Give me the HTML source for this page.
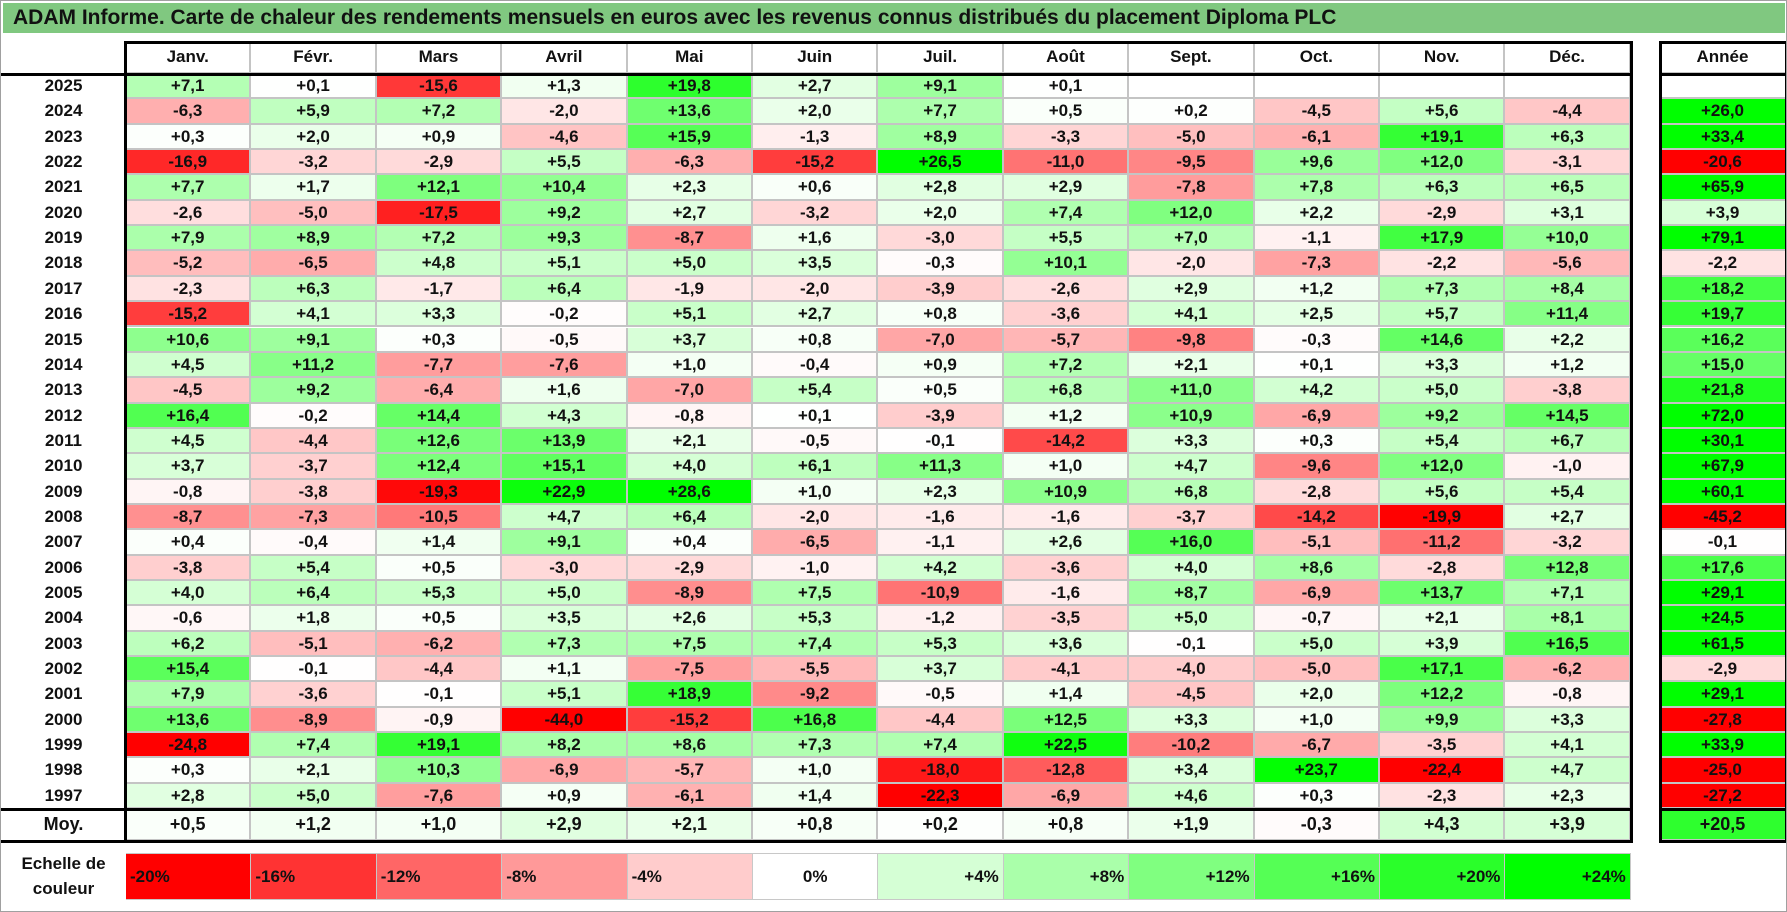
<!DOCTYPE html>
<html><head><meta charset="utf-8">
<style>
html,body{margin:0;padding:0;background:#fff;}
#page{position:relative;width:1787px;height:912px;overflow:hidden;font-family:"Liberation Sans",Arial,sans-serif;box-sizing:border-box;border:1px solid #a0a0a0;}
.title{position:absolute;left:2px;top:2px;width:1782px;height:30px;background:#80c880;font-weight:bold;font-size:21px;line-height:30px;padding-left:10px;box-sizing:border-box;color:#111;white-space:nowrap;}
.c{position:absolute;box-sizing:border-box;text-align:center;font-weight:bold;font-size:17px;color:#111;border-right:2px solid #c4c4c4;border-bottom:2px solid #c4c4c4;white-space:nowrap;}
.k{position:absolute;background:#000;}
</style></head><body>
<div id="page">
<div class="title">ADAM Informe. Carte de chaleur des rendements mensuels en euros avec les revenus connus distribués du placement Diploma PLC</div>
</div>
<script>
const months = ["Janv.","Févr.","Mars","Avril","Mai","Juin","Juil.","Août","Sept.","Oct.","Nov.","Déc."];
const years = [2025,2024,2023,2022,2021,2020,2019,2018,2017,2016,2015,2014,2013,2012,2011,2010,2009,2008,2007,2006,2005,2004,2003,2002,2001,2000,1999,1998,1997];
const monthly = [
[7.1,0.1,-15.6,1.3,19.8,2.7,9.1,0.1,null,null,null,null],
[-6.3,5.9,7.2,-2.0,13.6,2.0,7.7,0.5,0.2,-4.5,5.6,-4.4],
[0.3,2.0,0.9,-4.6,15.9,-1.3,8.9,-3.3,-5.0,-6.1,19.1,6.3],
[-16.9,-3.2,-2.9,5.5,-6.3,-15.2,26.5,-11.0,-9.5,9.6,12.0,-3.1],
[7.7,1.7,12.1,10.4,2.3,0.6,2.8,2.9,-7.8,7.8,6.3,6.5],
[-2.6,-5.0,-17.5,9.2,2.7,-3.2,2.0,7.4,12.0,2.2,-2.9,3.1],
[7.9,8.9,7.2,9.3,-8.7,1.6,-3.0,5.5,7.0,-1.1,17.9,10.0],
[-5.2,-6.5,4.8,5.1,5.0,3.5,-0.3,10.1,-2.0,-7.3,-2.2,-5.6],
[-2.3,6.3,-1.7,6.4,-1.9,-2.0,-3.9,-2.6,2.9,1.2,7.3,8.4],
[-15.2,4.1,3.3,-0.2,5.1,2.7,0.8,-3.6,4.1,2.5,5.7,11.4],
[10.6,9.1,0.3,-0.5,3.7,0.8,-7.0,-5.7,-9.8,-0.3,14.6,2.2],
[4.5,11.2,-7.7,-7.6,1.0,-0.4,0.9,7.2,2.1,0.1,3.3,1.2],
[-4.5,9.2,-6.4,1.6,-7.0,5.4,0.5,6.8,11.0,4.2,5.0,-3.8],
[16.4,-0.2,14.4,4.3,-0.8,0.1,-3.9,1.2,10.9,-6.9,9.2,14.5],
[4.5,-4.4,12.6,13.9,2.1,-0.5,-0.1,-14.2,3.3,0.3,5.4,6.7],
[3.7,-3.7,12.4,15.1,4.0,6.1,11.3,1.0,4.7,-9.6,12.0,-1.0],
[-0.8,-3.8,-19.3,22.9,28.6,1.0,2.3,10.9,6.8,-2.8,5.6,5.4],
[-8.7,-7.3,-10.5,4.7,6.4,-2.0,-1.6,-1.6,-3.7,-14.2,-19.9,2.7],
[0.4,-0.4,1.4,9.1,0.4,-6.5,-1.1,2.6,16.0,-5.1,-11.2,-3.2],
[-3.8,5.4,0.5,-3.0,-2.9,-1.0,4.2,-3.6,4.0,8.6,-2.8,12.8],
[4.0,6.4,5.3,5.0,-8.9,7.5,-10.9,-1.6,8.7,-6.9,13.7,7.1],
[-0.6,1.8,0.5,3.5,2.6,5.3,-1.2,-3.5,5.0,-0.7,2.1,8.1],
[6.2,-5.1,-6.2,7.3,7.5,7.4,5.3,3.6,-0.1,5.0,3.9,16.5],
[15.4,-0.1,-4.4,1.1,-7.5,-5.5,3.7,-4.1,-4.0,-5.0,17.1,-6.2],
[7.9,-3.6,-0.1,5.1,18.9,-9.2,-0.5,1.4,-4.5,2.0,12.2,-0.8],
[13.6,-8.9,-0.9,-44.0,-15.2,16.8,-4.4,12.5,3.3,1.0,9.9,3.3],
[-24.8,7.4,19.1,8.2,8.6,7.3,7.4,22.5,-10.2,-6.7,-3.5,4.1],
[0.3,2.1,10.3,-6.9,-5.7,1.0,-18.0,-12.8,3.4,23.7,-22.4,4.7],
[2.8,5.0,-7.6,0.9,-6.1,1.4,-22.3,-6.9,4.6,0.3,-2.3,2.3]
];
const yearly = [null,26.0,33.4,-20.6,65.9,3.9,79.1,-2.2,18.2,19.7,16.2,15.0,21.8,72.0,30.1,67.9,60.1,-45.2,-0.1,17.6,29.1,24.5,61.5,-2.9,29.1,-27.8,33.9,-25.0,-27.2];
const averages = [0.5,1.2,1.0,2.9,2.1,0.8,0.2,0.8,1.9,-0.3,4.3,3.9];
const averageYear = 20.5;
const scaleSteps = [-20,-16,-12,-8,-4,0,4,8,12,16,20,24];

const page = document.getElementById('page');
const X0 = 125, CW = 125.4, AX = 1659, AW = 127, HT = 41, HB = 73, RH = 25.35;
const xOf = i => X0 + i*CW;
const yOf = r => HB + r*RH;
function color(v, negMax, posMax){
  if(v===null) return '#fff';
  let t, c;
  if(v<0){ t=Math.min(-v/negMax,1); c=Math.round(255*(1-t)); return `rgb(255,${c},${c})`; }
  t=Math.min(v/posMax,1); c=Math.round(255*(1-t)); return `rgb(${c},255,${c})`;
}
const fmt = v => v===null ? '' : (v>=0?'+':'') + v.toFixed(1).replace('.',',');
function cell(x,y,w,h,text,bg,extra){
  const d=document.createElement('div');
  d.className='c';
  d.style.cssText=`left:${x}px;top:${y}px;width:${w}px;height:${h}px;line-height:${h-2}px;background:${bg};`+(extra||'');
  d.textContent=text;
  page.appendChild(d);
  return d;
}
function bar(x,y,w,h){
  const d=document.createElement('div');
  d.className='k';
  d.style.cssText=`left:${x}px;top:${y}px;width:${w}px;height:${h}px;`;
  
  
  page.appendChild(d);
}
months.forEach((m,i)=>{
  const d=cell(xOf(i),HT,CW,HB-HT,m,'#fff');
  
  
});
{ const d=cell(AX,HT,AW,HB-HT,'Année','#fff');
  
   }
years.forEach((yr,r)=>{
  const y=yOf(r);
  const l=cell(0,y,X0,RH,String(yr),'#fff','border-right:none;border-bottom:none;');
  
  
  monthly[r].forEach((v,i)=>{
    const d=cell(xOf(i),y,CW,RH,fmt(v),color(v,20,24));
    
    
  });
  const a=cell(AX,y,AW,RH,fmt(yearly[r]),color(yearly[r],20,25));
  
  
});
const MY = yOf(years.length), MH = 32;
{ const l=cell(0,MY,X0,MH,'Moy.','#fff','border-right:none;border-bottom:none;font-size:18px;');
  
   }
averages.forEach((v,i)=>{
  const d=cell(xOf(i),MY,CW,MH,fmt(v),color(v,20,24),'font-size:18px;');
  
  
});
{ const a=cell(AX,MY,AW,MH,fmt(averageYear),color(averageYear,20,25),'font-size:18px;');
  
   }
const XR = xOf(12);
bar(X0-1,HT-1,XR-X0+3,3);
bar(X0-2,HT-1,3,MY+MH-HT+2);
bar(XR-1,HT-1,3,MY+MH-HT+2);
bar(0,HB-1,XR+2,3);
bar(0,MY-1,XR+2,3);
bar(0,MY+MH-1,XR+2,3);
bar(AX-1,HT-1,AW+2,3);
bar(AX-1,HB-1,AW+2,3);
bar(AX-1,HT-1,3,MY+MH-HT+2);
bar(AX+AW-2,HT-1,3,MY+MH-HT+2);
bar(AX-1,MY-1,AW+2,3);
bar(AX-1,MY+MH-1,AW+2,3);
const SY = 852, SH = 47;
{ const d=document.createElement('div');
  
  
  d.style.cssText=`position:absolute;left:0;top:${SY-2}px;width:${X0}px;height:${SH}px;text-align:center;font-weight:bold;font-size:17px;line-height:25px;color:#111;`;
  d.innerHTML='Echelle de<br>couleur';
  page.appendChild(d); }
scaleSteps.forEach((v,i)=>{
  const align = v<0?'left':(v===0?'center':'right');
  const label = v===0?'0%':((v>0?'+':'')+v+'%');
  const d=cell(xOf(i),SY,CW,SH,label,color(v,20,24),`text-align:${align};font-weight:bold;font-size:17px;padding:0 4px;border:1px solid #c8c8c8;border-left:none;color:#111;`);
  
  
});
</script>
</body></html>
